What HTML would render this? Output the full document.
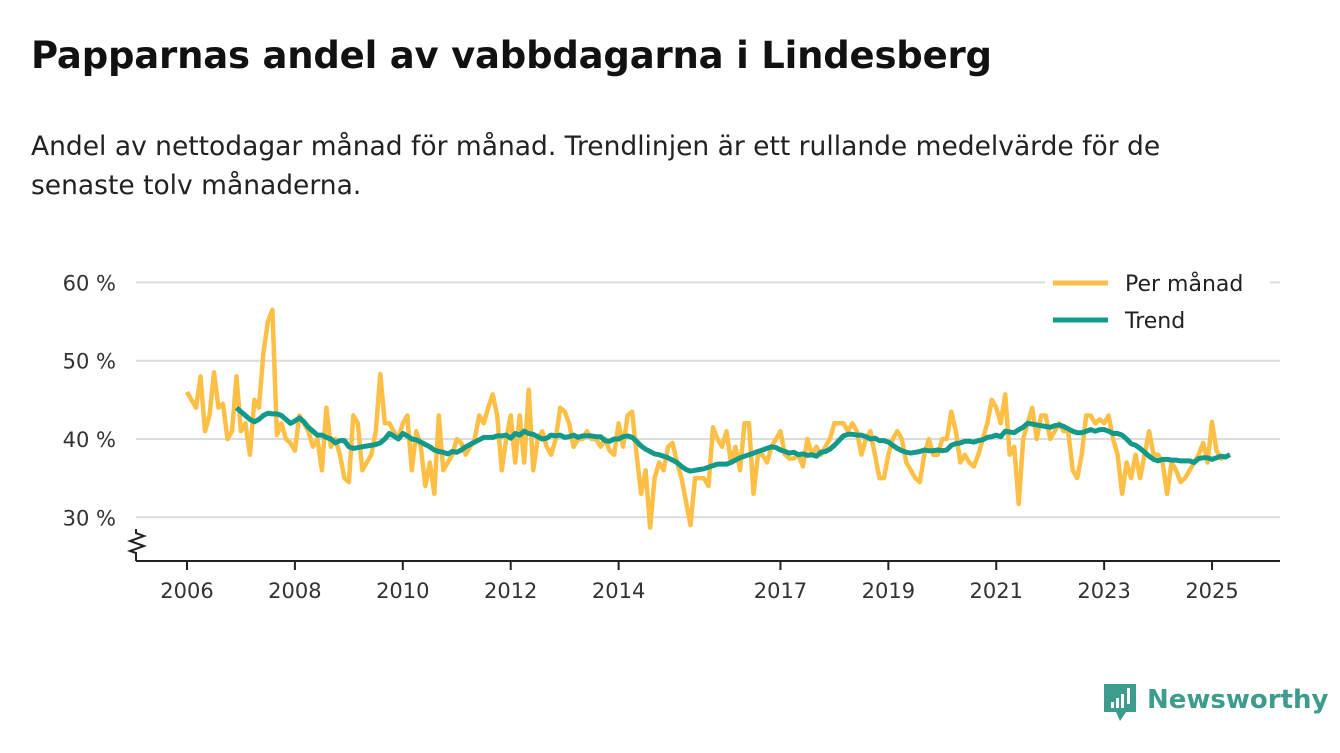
<!DOCTYPE html>
<html><head><meta charset="utf-8"><style>
body{margin:0;background:#fff;font-family:"Liberation Sans","DejaVu Sans",sans-serif;}
#wrap{position:relative;width:1340px;height:753px;overflow:hidden;}
h1{position:absolute;left:31px;top:34px;margin:0;font-size:37px;font-weight:bold;color:#111;font-family:"DejaVu Sans","Liberation Sans",sans-serif;letter-spacing:-0.2px}
.sub{position:absolute;left:31px;top:127px;width:1235px;font-size:26.5px;line-height:39px;color:#222;font-family:"DejaVu Sans","Liberation Sans",sans-serif;}
svg text{font-family:"DejaVu Sans","Liberation Sans",sans-serif;}
</style></head><body><div id="wrap">
<h1>Papparnas andel av vabbdagarna i Lindesberg</h1>
<div class="sub">Andel av nettodagar månad för månad. Trendlinjen är ett rullande medelvärde för de<br>senaste tolv månaderna.</div>
<svg id="chart" width="1340" height="753" style="position:absolute;left:0;top:0"></svg>
</div>
<script>
const yTicks=[30,40,50,60];
const xTickYears=[2006,2008,2010,2012,2014,2017,2019,2021,2023,2025];
const startYear=2006;
const monthly=[46,45,44,48,41,43,48.5,44,44.5,40,41,48,
41,42,38,45,44,51,55,56.5,40.5,42,40,39.5,
38.5,43,42,41,39,40,36,44,39,40,38,35,
34.5,43,42,36,37,38,41,48.3,42,42,41,40,
42,43,36,41,39,34,37,33,43,36,37,38,
40,39.5,38,39,40,43,42,44,45.7,43,36,40,
43,37,43,37,46.3,36,40,41,39,38,40,44,
43.5,42,39,40,40,41,40,40,39,40,38.5,38,
42,39,43,43.5,38,33,36,28.7,35,37,36,39,
39.5,37,35,32,29,35,35,35,34,41.5,40,39,
41,37,39,36,42,42,33,38,38,37,39,40,
41,38,37.5,37.5,38,36.5,40,38,39,38,39,40,
42,42,42,41,42,41,38,40,41,38,35,35,
38,40,41,40,37,36,35,34.5,38,40,38,38,
40,40,43.5,41,37,38,37,36.5,38,40,42,45,
44,42,45.7,38,39,31.7,40,42,44,40,43,43,
40,41,42,41,41,36,35,38,43,43,42,42.5,
42,43,40,38,33,37,35,38,35,38,41,38,
38,37,33,37,36,34.5,35,36,37,38,39.5,37,
42.2,38.5,37.5,37.8,38];
const trendStartIndex=11;
const trend=[44,
43.5,43,42.5,42.2,42.5,43,43.3,43.2,43.2,43,42.5,42,
42.3,42.7,42.2,41.5,41,40.5,40.5,40.2,40,39.5,39.8,39.8,
39,38.8,38.9,39,39.1,39.2,39.3,39.5,40,40.7,40.4,40,
40.7,40.4,40,39.9,39.6,39.3,39,38.6,38.4,38.3,38.1,38.4,
38.3,38.6,39,39.3,39.6,39.9,40.2,40.2,40.2,40.4,40.4,40.5,
40.1,40.7,40.5,41,40.7,40.6,40.3,40,40.1,40.5,40.4,40.5,
40.2,40.3,40.5,40.2,40.4,40.4,40.4,40.3,40.3,39.8,39.7,40,
40.0,40.3,40.4,40.2,39.7,39.1,38.7,38.4,38.1,38,37.8,37.6,
37.3,37,36.5,36.1,35.9,36,36.1,36.2,36.4,36.6,36.8,36.8,
36.8,37.0,37.3,37.6,37.8,38.0,38.2,38.4,38.6,38.8,39,38.9,
38.6,38.4,38.2,38.3,38.0,38.1,37.9,38.0,37.8,38.3,38.4,38.7,
39.2,39.8,40.4,40.6,40.6,40.5,40.5,40.3,40.0,40.1,39.8,39.8,
39.6,39.2,38.8,38.5,38.3,38.2,38.3,38.4,38.6,38.5,38.5,38.6,
38.5,38.6,39.2,39.4,39.5,39.7,39.7,39.6,39.8,39.9,40.2,40.3,
40.5,40.3,41,40.9,40.8,41.2,41.5,42,41.9,41.8,41.7,41.6,
41.5,41.7,41.8,41.6,41.3,41,40.8,40.8,41,41.2,41,41.2,
41.2,41,40.7,40.7,40.5,40,39.4,39.2,38.8,38.3,37.8,37.4,
37.2,37.4,37.4,37.3,37.3,37.2,37.2,37.2,37.0,37.5,37.6,37.6,
37.4,37.6,37.8,37.7,38];
const NS='http://www.w3.org/2000/svg';
const svg=document.getElementById('chart');
const x=t=>187+(t-startYear)*53.95;
const xi=i=>x(startYear+i/12);
const y=v=>439-(v-40)*7.83;
function mk(tag,attrs,parent){const e=document.createElementNS(NS,tag);for(const k in attrs)e.setAttribute(k,attrs[k]);(parent||svg).appendChild(e);return e;}
yTicks.forEach(v=>{
 const g=mk('line',{x1:136,x2:1280,y1:y(v),y2:y(v),stroke:'#dcdcdc','stroke-width':2});
 
 
 const t=mk('text',{x:116,y:y(v)+8,'text-anchor':'end','font-size':21,fill:'#333'});
 t.textContent=v+' %';
 
 
});
const ax=mk('path',{d:'M136 561H1280',stroke:'#222','stroke-width':2,fill:'none'});


const sq=mk('path',{d:'M136 529V533L144 536L130 541L144 546L130 551L136 553V561',stroke:'#222','stroke-width':2,fill:'none'});


xTickYears.forEach(yr=>{
 const l=mk('line',{x1:x(yr),x2:x(yr),y1:561,y2:570,stroke:'#222','stroke-width':2});
 
 
 const t=mk('text',{x:x(yr),y:598,'text-anchor':'middle','font-size':21,fill:'#333'});
 t.textContent=yr;
 
 
});
const mp=mk('path',{d:monthly.map((v,i)=>(i?'L':'M')+xi(i).toFixed(1)+' '+y(v).toFixed(1)).join(''),stroke:'#fdbf45','stroke-width':4.5,fill:'none','stroke-linejoin':'round'});


const tp=mk('path',{d:trend.map((v,i)=>(i?'L':'M')+xi(i+trendStartIndex).toFixed(1)+' '+y(v).toFixed(1)).join(''),stroke:'#13998a','stroke-width':5,fill:'none','stroke-linejoin':'round'});


[['Per månad','#fdbf45',283],['Trend','#13998a',320]].forEach(([lab,c,yy])=>{
 const bg=mk('rect',{x:1045,y:yy-16,width:225,height:32,fill:'#fff'});
 
 
 const l=mk('line',{x1:1053,x2:1108,y1:yy,y2:yy,stroke:c,'stroke-width':5});
 
 
 const t=mk('text',{x:1125,y:yy+8,'font-size':22,fill:'#222'});
 t.textContent=lab;
 
 
});
const logo=mk('g',{});


mk('path',{d:'M1104 684H1136V712H1126L1120 721L1116 712H1104Z',fill:'#3d9c8c'},logo);
[[1111,702,3,6],[1116,698,3,10],[1121,694,3,14],[1127,688,3,16]].forEach(r=>mk('rect',{x:r[0],y:r[1],width:r[2],height:r[3],fill:'#fff'},logo));
const lt=mk('text',{x:1147,y:708,'font-size':26,'font-weight':'bold',fill:'#3d9c8c','font-family':'Liberation Sans, sans-serif'},logo);
lt.textContent='Newsworthy';
</script></body></html>
